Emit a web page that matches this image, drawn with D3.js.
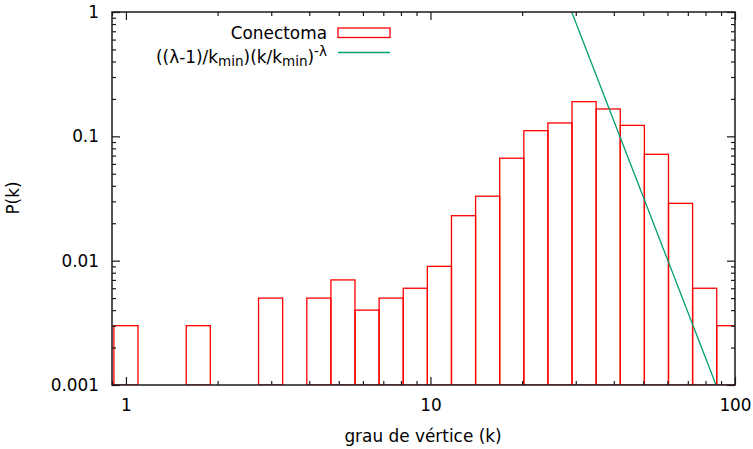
<!DOCTYPE html>
<html>
<head>
<meta charset="utf-8">
<script src="https://cdn.jsdelivr.net/npm/d3@7"></script>
<style>
  body { margin: 0; background: #fff; }
  text { font-family: "DejaVu Sans", sans-serif; }
</style>
</head>
<body>
<script>
// log-binned degree distribution, bins grow by a factor of 1.2
const binRatio = 1.2;
const binCenters = [1, 1.728, 2.986, 3.583, 4.300, 5.160, 6.192, 7.430, 8.916, 10.70,
  12.84, 15.41, 18.49, 22.19, 26.62, 31.95, 38.34, 46.01, 55.21, 66.25, 79.50, 95.40];
const probs = [0.003, 0.003, 0.005, 0.0008, 0.005, 0.007, 0.004, 0.005, 0.006, 0.009,
  0.023, 0.033, 0.0667, 0.111, 0.128, 0.19, 0.166, 0.1225, 0.0717, 0.0289, 0.006, 0.003];

// power-law fit parameters
const lambda = 6.33;
const kmin = 40;

const xTicks = [1, 10, 100];
const yTicks = [0.001, 0.01, 0.1, 1];
const xMinor = [0.9, 2, 3, 4, 5, 6, 7, 8, 9, 20, 30, 40, 50, 60, 70, 80, 90];
const yMinor = [];
[0.001, 0.01, 0.1].forEach(d => { for (let m = 2; m <= 9; m++) yMinor.push(d * m); });

const w = 753, h = 449;
const plotL = 112, plotR = 735, plotT = 12, plotB = 385;
const red = '#ff0000', green = '#009e73', ink = '#1a1a1a';
const fs = 16.9;

const x = d3.scaleLog().domain([0.9, 100]).range([plotL, plotR]);
const y = d3.scaleLog().domain([0.001, 1]).range([plotB, plotT]).clamp(true);
const yFree = y.copy().clamp(false);

const svg = d3.select('body').append('svg')
  .attr('width', w).attr('height', h)
  .attr('viewBox', [0, 0, w, h]);

svg.append('defs').append('clipPath').attr('id', 'plot')
  .append('rect')
    .attr('x', plotL).attr('y', plotT)
    .attr('width', plotR - plotL).attr('height', plotB - plotT);

const plot = svg.append('g').attr('clip-path', 'url(#plot)');

const bins = binCenters.map((c, i) => ({ c, p: probs[i] }));
const half = Math.sqrt(binRatio);

plot.selectAll('rect.bar')
  .data(bins)
  .enter().append('rect')
    .attr('class', 'bar')
    .attr('x', d => x(d.c / half))
    .attr('width', d => x(d.c * half) - x(d.c / half))
    .attr('y', d => y(d.p))
    .attr('height', d => y(0.001) - y(d.p))
    .attr('fill', 'none')
    .attr('stroke', red)
    .attr('stroke-width', 1.3);

const fit = k => ((lambda - 1) / kmin) * Math.pow(k / kmin, -lambda);
const kLine = [25, 100];
const line = d3.line()
  .x(d => x(d))
  .y(d => yFree(fit(d)));
plot.append('path')
  .attr('d', line(kLine))
  .attr('fill', 'none')
  .attr('stroke', green)
  .attr('stroke-width', 1.3);

// axes with inward ticks
function styleAxis(g) {
  g.select('.domain').remove();
  g.selectAll('line').attr('stroke', ink).attr('stroke-width', 1.2);
  g.selectAll('text').attr('font-size', fs).attr('font-family', '"DejaVu Sans", sans-serif').attr('fill', '#000');
}

svg.append('g').attr('transform', `translate(0,${plotB})`)
  .call(d3.axisBottom(x).tickValues(xTicks).tickFormat(d3.format('')).tickSize(-8).tickPadding(14))
  .call(styleAxis);
svg.append('g').attr('transform', `translate(0,${plotB})`)
  .call(d3.axisBottom(x).tickValues(xMinor).tickFormat('').tickSize(-4))
  .call(styleAxis);
svg.append('g').attr('transform', `translate(0,${plotT})`)
  .call(d3.axisTop(x).tickValues(xTicks).tickFormat('').tickSize(-8))
  .call(styleAxis);
svg.append('g').attr('transform', `translate(0,${plotT})`)
  .call(d3.axisTop(x).tickValues(xMinor).tickFormat('').tickSize(-4))
  .call(styleAxis);

svg.append('g').attr('transform', `translate(${plotL},0)`)
  .call(d3.axisLeft(y).tickValues(yTicks).tickFormat(d => String(d)).tickSize(-8).tickPadding(13))
  .call(styleAxis);
svg.append('g').attr('transform', `translate(${plotL},0)`)
  .call(d3.axisLeft(y).tickValues(yMinor).tickFormat('').tickSize(-4))
  .call(styleAxis);
svg.append('g').attr('transform', `translate(${plotR},0)`)
  .call(d3.axisRight(y).tickValues(yTicks).tickFormat('').tickSize(-8))
  .call(styleAxis);
svg.append('g').attr('transform', `translate(${plotR},0)`)
  .call(d3.axisRight(y).tickValues(yMinor).tickFormat('').tickSize(-4))
  .call(styleAxis);

svg.append('rect')
  .attr('x', plotL).attr('y', plotT)
  .attr('width', plotR - plotL).attr('height', plotB - plotT)
  .attr('fill', 'none')
  .attr('stroke', ink)
  .attr('stroke-width', 1.5);

// axis titles
svg.append('text')
  .attr('x', 423)
  .attr('y', 442)
  .attr('text-anchor', 'middle')
  .attr('font-size', fs)
  .text('grau de vértice (k)');

svg.append('text')
  .attr('transform', `translate(19,198) rotate(-90)`)
  .attr('text-anchor', 'middle')
  .attr('font-size', fs)
  .text('P(k)');

// legend
const legX = 327, sampleX0 = 338, sampleX1 = 390;
svg.append('text')
  .attr('x', legX).attr('y', 39)
  .attr('text-anchor', 'end')
  .attr('font-size', fs)
  .text('Conectoma');
svg.append('rect')
  .attr('x', sampleX0).attr('y', 28)
  .attr('width', sampleX1 - sampleX0).attr('height', 9.5)
  .attr('fill', 'none')
  .attr('stroke', red)
  .attr('stroke-width', 1.3);

const fl = svg.append('text')
  .attr('x', legX).attr('y', 62.5)
  .attr('text-anchor', 'end')
  .attr('font-size', fs);
const sub = 0.8 * fs;
fl.append('tspan').text('((λ-1)/k');
fl.append('tspan').attr('font-size', sub).attr('dy', 3.5).text('min');
fl.append('tspan').attr('dy', -3.5).text(')(k/k');
fl.append('tspan').attr('font-size', sub).attr('dy', 3.5).text('min');
fl.append('tspan').attr('dy', -3.5).text(')');
fl.append('tspan').attr('font-size', sub).attr('dy', -6.5).text('-λ');

svg.append('line')
  .attr('x1', sampleX0).attr('x2', sampleX1)
  .attr('y1', 52.5).attr('y2', 52.5)
  .attr('stroke', green)
  .attr('stroke-width', 1.3);
</script>
</body>
</html>
